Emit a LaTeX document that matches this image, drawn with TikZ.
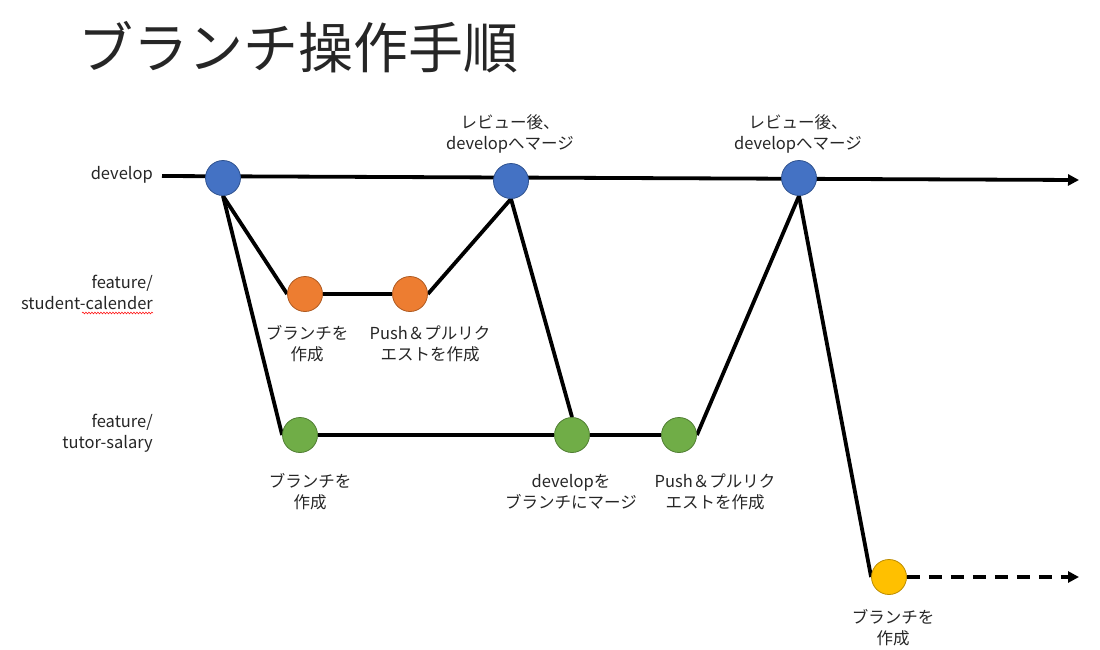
\documentclass[tikz,border=0pt]{standalone}
\usepackage{fontspec}
\setmainfont{Noto Sans CJK JP}
\usetikzlibrary{arrows.meta,backgrounds,decorations.pathmorphing}
\definecolor{cblue}{HTML}{4472C4}\definecolor{cblueL}{HTML}{2F528F}
\definecolor{corange}{HTML}{ED7D31}\definecolor{corangeL}{HTML}{AE5A21}
\definecolor{cgreen}{HTML}{70AD47}\definecolor{cgreenL}{HTML}{507E32}
\definecolor{cyellow}{HTML}{FFC000}\definecolor{cyellowL}{HTML}{BC8C00}
\definecolor{txt}{HTML}{262626}
\begin{document}
\begin{tikzpicture}[x=1pt,y=-1pt,
  commit/.style={circle,minimum size=35pt,inner sep=0pt,line width=0.8pt},
  cb/.style={commit,fill=cblue,draw=cblueL},
  co/.style={commit,fill=corange,draw=corangeL},
  cg/.style={commit,fill=cgreen,draw=cgreenL},
  cy/.style={commit,fill=cyellow,draw=cyellowL},
  conn/.style={line width=3.8pt,black},
  lbl/.style={align=center,inner sep=0pt,text=txt,font=\fontsize{16.5}{21}\selectfont},
  side/.style={align=right,anchor=east,inner sep=0pt,text=txt,font=\fontsize{16.5}{21}\selectfont},
  tip/.style={-{Triangle[length=11pt,width=11pt]}}]
\useasboundingbox (0,0) rectangle (1100,649);
\node[anchor=west,inner sep=0pt,text=txt,font=\fontsize{55}{64}\selectfont] (title) at (78,47) {ブランチ操作手順};
% side labels
\node[side] (ldev) at (153,175) {develop};
\node[side] (lstu) at (153,292) {feature/\\student-calender};
\node[side] (ltut) at (153,433) {feature/\\tutor-salary};
\draw[red,line width=0.5pt,decorate,decoration={snake,amplitude=0.9pt,segment length=3pt}] (82,313) -- (153,313);
% commits
\coordinate (dstart) at (162,176);
\coordinate (dend) at (1079,180);
\node[cb] (b1) at (223,178) {};
\node[cb] (b2) at (511,181) {};
\node[cb] (b3) at (799,178) {};
\node[co] (o1) at (305,294) {};
\node[co] (o2) at (410,294) {};
\node[cg] (g1) at (300,435) {};
\node[cg] (g2) at (572,435) {};
\node[cg] (g3) at (679,435) {};
\node[cy] (y1) at (889,577) {};
\coordinate (yend) at (1079,577);
\begin{scope}[on background layer]
\draw[conn,tip] (dstart) -- (dend);
\draw[conn] (b1.south) -- (o1.west);
\draw[conn] (b1.south) -- (g1.west);
\draw[conn] (o1) -- (o2);
\draw[conn] (o2.east) -- (b2.south);
\draw[conn] (b2.south) -- (g2.north);
\draw[conn] (g1) -- (g2);
\draw[conn] (g2) -- (g3);
\draw[conn] (g3.east) -- (b3.south);
\draw[conn] (b3.south) -- (y1.west);
\draw[conn,tip,dash pattern=on 13pt off 9pt] (y1.east) -- (yend);
\end{scope}
% commit labels
\node[lbl] (t1) at (307,344) {ブランチを\\作成};
\node[lbl] (t2) at (430,344) {Push＆プルリク\\エストを作成};
\node[lbl] (t3) at (310,492) {ブランチを\\作成};
\node[lbl] (t4) at (571,492) {developを\\ブランチにマージ};
\node[lbl] (t5) at (715,492) {Push＆プルリク\\エストを作成};
\node[lbl] (t6) at (893,628) {ブランチを\\作成};
\node[lbl] (t7) at (510,134) {レビュー後、\\developへマージ};
\node[lbl] (t8) at (798,134) {レビュー後、\\developへマージ};
\end{tikzpicture}
\end{document}
